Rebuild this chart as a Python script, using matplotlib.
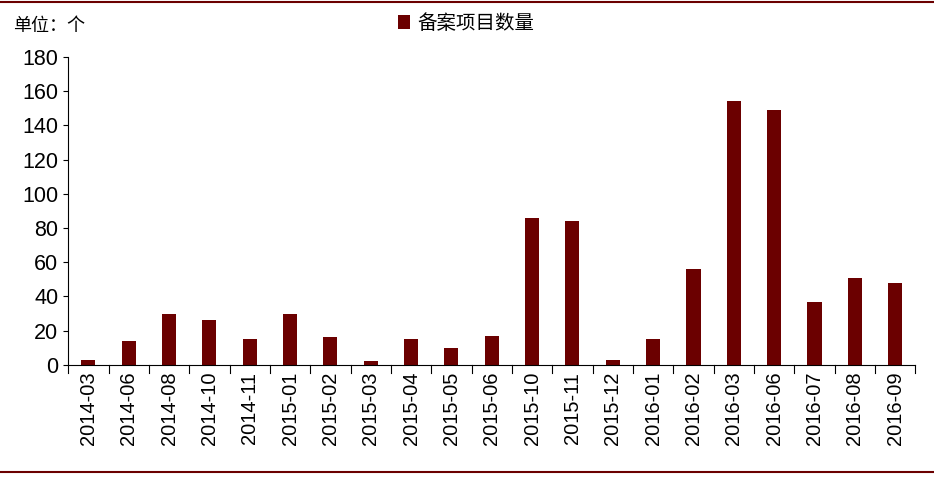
import matplotlib
matplotlib.use("Agg")
import matplotlib.pyplot as plt

plt.rcParams['font.family'] = ['Noto Sans CJK SC', 'DejaVu Sans']

months = ["2014-03", "2014-06", "2014-08", "2014-10", "2014-11", "2015-01", "2015-02",
          "2015-03", "2015-04", "2015-05", "2015-06", "2015-10", "2015-11", "2015-12",
          "2016-01", "2016-02", "2016-03", "2016-06", "2016-07", "2016-08", "2016-09"]
counts = [3, 14, 30, 26, 15, 30, 16, 2, 15, 10, 17, 86, 84, 3, 15, 56, 154, 149, 37, 51, 48]

bar_color = "#6B0000"
num_font = ["Liberation Sans", "DejaVu Sans"]

fig = plt.figure(figsize=(9.34, 4.82), dpi=100)
ax = fig.add_axes([0.073, 0.243, 0.907, 0.639])

x = range(len(months))
ax.bar(x, counts, width=0.35, color=bar_color, label="备案项目数量")
ax.set_xlim(-0.5, len(months) - 0.5)
ax.set_ylim(0, 180)
ax.set_yticks(range(0, 181, 20))
ax.set_xticks(list(x))
ax.set_xticklabels(months, rotation=90, fontsize=14.5, family=num_font)
for lbl in ax.get_yticklabels():
    lbl.set_family(num_font)
ax.tick_params(axis="y", labelsize=15.5)
ax.tick_params(axis="x", length=0, pad=5)
# separators between categories
for i in range(len(months) + 1):
    ax.plot([i - 0.5, i - 0.5], [0, -5], color="black", lw=0.8, clip_on=False)
for s in ["top", "right"]:
    ax.spines[s].set_visible(False)

ax.legend(loc="upper center", bbox_to_anchor=(0.47, 1.2), frameon=False,
          fontsize=14, handlelength=0.6, handleheight=0.8, handletextpad=0.4)
fig.text(0.014, 0.935, "单位：个", fontsize=13)

# decorative lines top and bottom
fig.add_artist(plt.Line2D([0, 1], [0.996, 0.996], color=bar_color, lw=1.5))
fig.add_artist(plt.Line2D([0, 1], [0.02, 0.02], color=bar_color, lw=1.5))

fig.savefig("out.png", dpi=100)
